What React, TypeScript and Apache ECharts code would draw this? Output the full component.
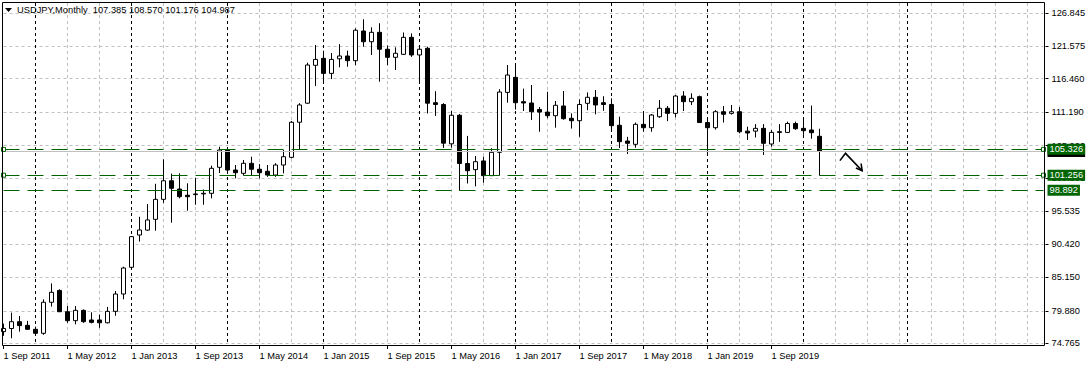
import React, { useEffect, useRef } from "react";
import * as echarts from "echarts";

const FONT = "'Liberation Sans', Arial, sans-serif";
const MONTHS = ["Jan", "Feb", "Mar", "Apr", "May", "Jun", "Jul", "Aug", "Sep", "Oct", "Nov", "Dec"];

// Category axis: 1 Sep 2011 ... 1 Jul 2022 (chart extends into the future)
const categories: string[] = [];
for (let i = 0; i < 131; i++) {
  const m = (8 + i) % 12;
  const y = 2011 + Math.floor((8 + i) / 12);
  categories.push(`1 ${MONTHS[m]} ${y}`);
}

// Monthly USDJPY candles, Sep 2011 .. Mar 2020
const open = [
  76.60, 77.10, 78.17, 77.60,
  76.97, 76.34, 81.23, 83.10, 79.74, 78.33, 79.96, 78.44, 78.44, 78.00, 79.80, 82.53,
  86.74, 91.83, 92.60, 94.30, 97.45, 100.38, 99.08, 98.10, 98.20, 98.30, 98.40, 102.50,
  105.22, 102.07, 101.55, 103.13, 102.19, 101.87, 101.28, 102.86, 104.07, 109.60, 112.60, 118.57,
  119.67, 117.30, 119.60, 120.04, 119.30, 123.98, 122.29, 123.77, 121.10, 119.83, 120.30, 122.98,
  120.20, 121.25, 112.68, 112.40, 106.20, 110.70, 103.10, 102.13, 103.50, 101.18, 104.86, 114.30,
  116.67, 112.84, 112.63, 111.60, 111.20, 110.63, 112.16, 110.22, 109.84, 112.58, 113.53, 112.68,
  112.40, 109.12, 106.64, 106.12, 109.27, 108.74, 110.47, 111.80, 111.00, 113.73, 112.84, 113.63,
  109.55, 108.74, 111.26, 111.00, 111.26, 108.20, 108.20, 108.64, 106.17, 108.10, 108.00, 109.40,
  108.64, 108.38, 107.385,
];
const high = [
  77.87, 79.60, 79.07, 78.30,
  77.40, 81.70, 84.20, 83.27, 80.64, 80.64, 80.10, 79.65, 79.30, 80.50, 83.00, 86.84,
  91.67, 94.70, 96.70, 99.90, 103.76, 101.50, 101.55, 99.98, 100.80, 99.00, 102.75, 105.74,
  105.40, 102.86, 103.65, 104.17, 103.00, 102.86, 103.15, 105.22, 109.80, 112.60, 118.98, 121.77,
  120.87, 120.50, 121.90, 120.87, 124.40, 125.82, 124.56, 125.20, 121.70, 121.40, 123.75, 123.60,
  121.70, 121.50, 114.50, 112.60, 111.40, 110.90, 107.45, 104.28, 104.17, 105.50, 114.80, 118.62,
  118.60, 114.90, 115.47, 112.00, 114.40, 112.95, 114.52, 111.00, 113.20, 114.30, 114.68, 113.70,
  113.37, 110.48, 107.30, 109.55, 111.37, 110.90, 113.10, 112.16, 113.90, 114.50, 114.16, 113.80,
  110.00, 111.50, 112.16, 112.32, 112.00, 108.90, 109.30, 109.30, 108.37, 109.30, 109.70, 109.70,
  110.30, 112.23, 108.570,
];
const low = [
  75.94, 75.56, 76.60, 76.86,
  76.02, 76.10, 80.55, 79.70, 78.00, 77.76, 78.00, 77.90, 77.20, 77.90, 79.10, 81.70,
  86.60, 90.80, 92.50, 92.50, 96.90, 93.77, 97.60, 95.66, 96.60, 96.60, 97.60, 101.60,
  101.55, 100.76, 101.20, 101.28, 100.76, 101.00, 101.00, 101.55, 103.90, 105.22, 112.50, 115.30,
  115.74, 116.40, 118.26, 118.35, 118.60, 121.50, 120.20, 115.99, 118.60, 117.83, 120.20, 119.90,
  115.97, 110.98, 110.60, 105.55, 105.60, 98.80, 99.95, 99.50, 100.07, 101.18, 101.20, 112.68,
  111.60, 111.37, 109.95, 108.10, 110.23, 108.74, 110.00, 108.60, 107.30, 111.50, 110.84, 111.40,
  108.27, 105.55, 104.60, 105.58, 108.10, 108.10, 110.30, 109.77, 110.38, 111.37, 112.30, 109.50,
  104.43, 108.45, 109.55, 110.80, 107.85, 106.80, 107.20, 104.45, 105.75, 106.50, 107.90, 108.40,
  107.60, 107.00, 101.176,
];
const close = [
  77.10, 78.17, 77.55, 76.97,
  76.34, 81.23, 82.80, 79.74, 78.33, 79.96, 78.17, 78.07, 78.00, 79.80, 82.53, 86.63,
  91.57, 92.62, 94.20, 97.45, 100.38, 99.19, 97.87, 97.87, 98.30, 98.40, 102.34, 105.22,
  102.07, 101.65, 103.13, 102.19, 101.65, 101.28, 102.86, 104.17, 109.60, 112.32, 118.62, 119.50,
  117.30, 119.50, 120.04, 119.30, 124.10, 122.29, 123.77, 121.10, 119.83, 120.46, 122.98, 120.20,
  121.10, 112.60, 112.40, 106.30, 110.70, 103.10, 101.96, 103.38, 101.18, 104.86, 114.36, 117.04,
  112.68, 112.63, 111.26, 111.20, 110.63, 112.27, 110.16, 109.84, 112.40, 113.53, 112.32, 112.40,
  109.06, 106.54, 106.28, 109.27, 108.74, 110.74, 111.80, 111.00, 113.73, 112.84, 113.37, 109.55,
  108.74, 111.26, 110.85, 111.26, 108.10, 107.90, 108.64, 106.28, 108.00, 108.00, 109.40, 108.58,
  108.27, 107.95, 104.987,
];

// Price axis tick labels (right side)
const yTicks = [126.845, 121.575, 116.46, 111.19, 105.92, 100.805, 95.535, 90.42, 85.15, 79.88, 74.765];
const yMin = 74.34;
const yMax = 128.39;

// Horizontal lines drawn by the user and the current bid
const levelValues = [105.326, 101.256, 98.892];
const levelHasMarker = [true, true, false];
const bidValue = 104.987;
const LEVEL_GREEN = "#006400";

// Header
const headerSymbol = "USDJPY,Monthly";
const headerOHLC = ["107.385", "108.570", "101.176", "104.987"];

// Time grid: label every 8 months (only where there is data), grid every 4 months, period separators
const labelStep = 8;
const lastLabelIdx = 96;
const gridStep = 4;
const lastDataIdx = 102;
const separatorIdx = [4, 16, 28, 40, 52, 64, 76, 88, 100, 113];

// Hand-drawn arrow annotation, in (month index, price) coordinates
const arrowLine: [number, number][] = [[104.55, 103.55], [105.25, 104.7], [107.33, 101.96]];
const arrowHead: [number, number][] = [[106.55, 102.4], [107.33, 101.96], [107.2, 103.1]];

export default function App() {
  const ref = useRef<HTMLDivElement>(null);
  useEffect(() => {
    if (!ref.current) return;
    const chart = echarts.init(ref.current, null, { renderer: "svg" });

    const candles = open.map((o, i) => [o, close[i], low[i], high[i]]);

    const isSeparator = (i: number) => separatorIdx.includes(i);
    const isGray = (i: number) =>
      i > 0 && i % gridStep === 0 && !isSeparator(i) && !(i <= lastDataIdx && i % 12 === 4);
    const showLabel = (i: number) => i % labelStep === 0 && i <= lastLabelIdx;

    const boxLabel = (text: string, bg: string) => ({
      show: true,
      position: "end",
      distance: 4,
      formatter: text,
      color: "#fff",
      backgroundColor: bg,
      padding: [1, 2, 0, 2],
      fontSize: 9.3,
      lineHeight: 10,
      fontFamily: FONT,
    });

    const levelMarks: any[] = [
      {
        yAxis: bidValue,
        lineStyle: { color: "#c0c0c0", type: "solid", width: 1 },
        label: boxLabel(bidValue.toFixed(3), "#000"),
      },
      ...levelValues.map((v) => ({
        yAxis: v,
        lineStyle: { color: LEVEL_GREEN, type: [16, 8], width: 1 },
        label: boxLabel(v.toFixed(3), LEVEL_GREEN),
      })),
    ];

    const markerPoints: any[] = [];
    levelValues.forEach((v, i) => {
      if (!levelHasMarker[i]) return;
      markerPoints.push({ coord: [categories[0], v] });
      markerPoints.push({ coord: [categories[categories.length - 1], v] });
    });

    chart.setOption({
      animation: false,
      backgroundColor: "#fff",
      grid: { left: 3.5, top: 3, width: 1040, height: 343, containLabel: false },
      xAxis: [
        {
          type: "category",
          data: categories,
          boundaryGap: false,
          axisLine: { show: false },
          axisTick: { show: true, interval: showLabel, length: 3, lineStyle: { color: "#000" } },
          axisLabel: {
            interval: showLabel,
            align: "left",
            margin: 5,
            fontSize: 9.3,
            fontFamily: FONT,
            color: "#000",
          },
          splitLine: {
            show: true,
            interval: isGray,
            lineStyle: { color: "#c0c0c0", type: [3, 3], width: 1 },
          },
        },
        {
          type: "category",
          data: categories,
          boundaryGap: false,
          axisLine: { show: false },
          axisTick: { show: false },
          axisLabel: { show: false },
          splitLine: {
            show: true,
            interval: isSeparator,
            lineStyle: { color: "#000", type: [3, 3], width: 1 },
          },
        },
      ],
      yAxis: {
        type: "value",
        position: "right",
        offset: 2,
        min: yMin,
        max: yMax,
        axisLine: { show: false },
        axisTick: { show: true, length: 3, customValues: yTicks, lineStyle: { color: "#000" } },
        axisLabel: {
          customValues: yTicks,
          formatter: (v: number) => v.toFixed(3),
          margin: 6,
          fontSize: 9.3,
          fontFamily: FONT,
          color: "#000",
        },
        splitLine: {
          show: true,
          lineStyle: { color: "#c0c0c0", type: [3, 3], width: 1 },
        },
      },
      series: [
        {
          type: "candlestick",
          data: candles,
          barWidth: 4,
          z: 2,
          itemStyle: {
            color: "#ffffff",
            color0: "#000000",
            borderColor: "#000000",
            borderColor0: "#000000",
            borderWidth: 1,
          },
        },
        {
          type: "line",
          data: [],
          z: 5,
          silent: true,
          color: LEVEL_GREEN,
          markLine: { silent: true, z: 5, symbol: "none", data: levelMarks },
          markPoint: {
            silent: true,
            z: 6,
            symbol: "rect",
            symbolSize: 4,
            itemStyle: { color: "#fff", borderColor: LEVEL_GREEN, borderWidth: 1 },
            label: { show: false },
            data: markerPoints,
          },
        },
      ],
      graphic: [
        {
          id: "frame",
          type: "rect",
          z: 10,
          silent: true,
          shape: { x: 2.5, y: 2.5, width: 1042, height: 343 },
          style: { fill: "none", stroke: "#000", lineWidth: 1 },
        },
        {
          id: "tri",
          type: "polygon",
          z: 11,
          shape: { points: [[5, 8], [12, 8], [8.5, 12]] },
          style: { fill: "#000" },
        },
        {
          id: "header",
          type: "text",
          z: 11,
          left: 17,
          top: 5,
          style: {
            text: `${headerSymbol}  ${headerOHLC.join(" ")}`,
            fontSize: 9.3,
            fontFamily: FONT,
            fill: "#000",
          },
        },
      ],
    });

    const x0 = chart.convertToPixel({ xAxisIndex: 0 }, categories[0]) as number;
    const x1 = chart.convertToPixel({ xAxisIndex: 0 }, categories[1]) as number;
    const toPx = (p: [number, number]) => [
      x0 + (x1 - x0) * p[0],
      chart.convertToPixel({ yAxisIndex: 0 }, p[1]) as number,
    ];
    chart.setOption({
      graphic: [
        {
          id: "arrow",
          type: "polyline",
          z: 12,
          shape: { points: arrowLine.map(toPx) },
          style: { stroke: "#000", lineWidth: 1.6, fill: null },
        },
        {
          id: "arrowhead",
          type: "polyline",
          z: 12,
          shape: { points: arrowHead.map(toPx) },
          style: { stroke: "#000", lineWidth: 1.6, fill: null },
        },
      ],
    });

    return () => chart.dispose();
  }, []);

  return (
    <div
      ref={ref}
      style={{ position: "absolute", left: 0, top: 0, width: 1091, height: 367, background: "#fff" }}
    />
  );
}
